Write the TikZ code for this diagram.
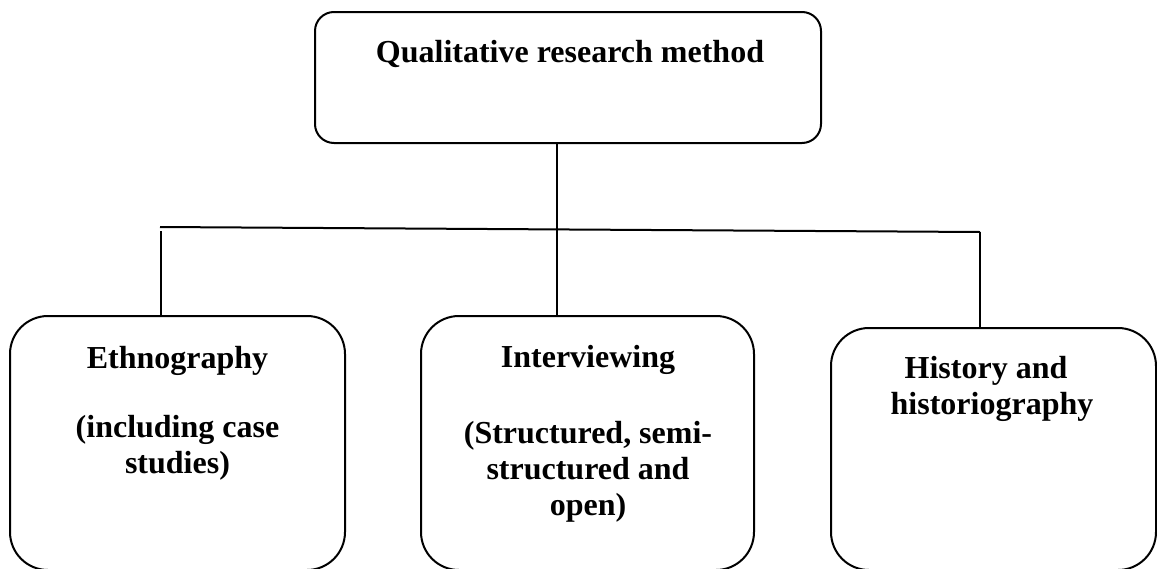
\documentclass[tikz,border=0pt]{standalone}
\usepackage{fontspec}
\setmainfont{Liberation Serif}
\begin{document}
\begin{tikzpicture}[x=1pt,y=-1pt,
  line width=2pt,
  box/.style={draw=black, inner sep=0pt},
  topbox/.style={box, rounded corners=19pt},
  subbox/.style={box, rounded corners=38pt},
  txt/.style={anchor=base, inner sep=0pt, font=\bfseries\fontsize{32}{36}\selectfont}
]
\useasboundingbox (0,0) rectangle (1157,568);
\clip (0,0) rectangle (1157,568);

% boxes
\node[topbox, minimum width=506pt, minimum height=131pt] (top) at (568,77.5) {};
\node[subbox, minimum width=335pt, minimum height=254pt] (eth) at (177.5,443) {};
\node[subbox, minimum width=333pt, minimum height=254pt] (int) at (587.5,443) {};
\node[subbox, minimum width=325pt, minimum height=242pt] (his) at (993.5,449) {};

% labels
\node[txt] (t0) at (570,62) {Qualitative research method};
\node[txt] (e1) at (177.5,368) {Ethnography};
\node[txt] (e2) at (177.5,437) {(including case};
\node[txt] (e3) at (177.5,473) {studies)};
\node[txt] (i1) at (588,367) {Interviewing};
\node[txt] (i2) at (588,443) {(Structured, semi-};
\node[txt] (i3) at (588,479) {structured and};
\node[txt] (i4) at (588,515) {open)};
\node[txt] (h1) at (986,378) {History and};
\node[txt] (h2) at (992,414) {historiography};

% connectors
\coordinate (jl) at (160,227);
\coordinate (jr) at (980,232);
\coordinate (jm) at (557,229);
\coordinate (jl2) at (161,231);
\draw (jl) -- (jr);
\draw (top.south -| jm) -- (int.north -| jm);
\draw (jl2) -- (eth.north -| jl2);
\draw (jr) -- (his.north -| jr);
\end{tikzpicture}
\end{document}
